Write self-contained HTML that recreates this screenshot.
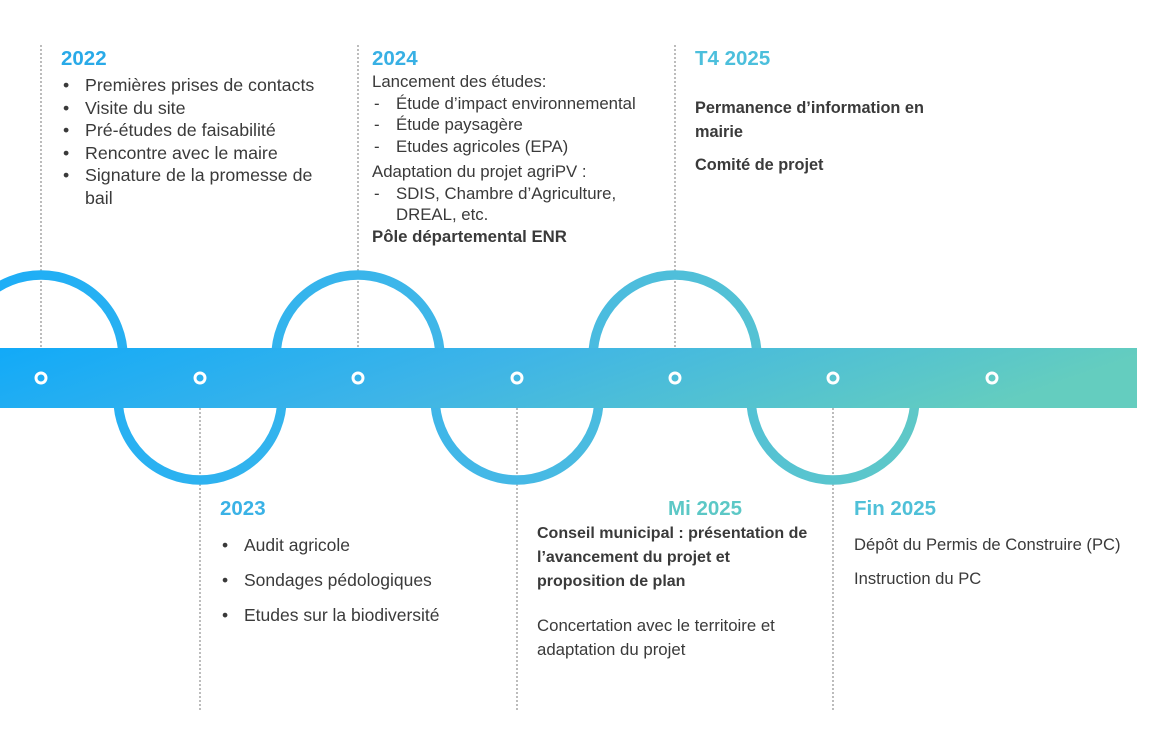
<!DOCTYPE html>
<html><head><meta charset="utf-8"><style>
body{margin:0;width:1152px;height:729px;background:#fff;position:relative;overflow:hidden;font-family:"Liberation Sans",sans-serif;color:#3a3a3a}
.t{position:absolute;font-size:16.5px;line-height:22.5px;white-space:nowrap}
.h{font-weight:bold;font-size:20.5px;position:absolute}
ul{margin:0;padding:0;list-style:none}
li{position:relative;padding-left:24px}
li:before{content:"•";position:absolute;left:2px}
.d li:before{content:"-";left:2px}
b{font-weight:bold}
</style></head><body>
<svg width="1152" height="729" style="position:absolute;left:0;top:0">
<defs><linearGradient id="g" x1="0" y1="0" x2="1" y2="0.15">
<stop offset="0" stop-color="#12aaf8"/><stop offset="0.45" stop-color="#3db4e8"/><stop offset="1" stop-color="#64cdbf"/></linearGradient>
<linearGradient id="g2" gradientUnits="userSpaceOnUse" x1="0" y1="0" x2="1137" y2="0">
<stop offset="0" stop-color="#1eaef6"/><stop offset="0.45" stop-color="#45b8e6"/><stop offset="0.8" stop-color="#5ec8c8"/><stop offset="1" stop-color="#64cdbf"/></linearGradient>
<clipPath id="top"><rect x="-100" y="0" width="1400" height="378"/></clipPath>
<clipPath id="bot"><rect x="-100" y="378" width="1400" height="400"/></clipPath>
</defs>
<g stroke="#999" stroke-width="1.3" stroke-dasharray="2,2">
<line x1="41" y1="45" x2="41" y2="348"/><line x1="358" y1="45" x2="358" y2="348"/><line x1="675" y1="45" x2="675" y2="348"/>
<line x1="200" y1="408" x2="200" y2="712"/><line x1="517" y1="408" x2="517" y2="712"/><line x1="833" y1="408" x2="833" y2="712"/>
</g>
<g fill="none" stroke="url(#g2)" stroke-width="9.5">
<g clip-path="url(#top)"><circle cx="41" cy="357" r="82"/><circle cx="358" cy="357" r="82"/><circle cx="675" cy="357" r="82"/></g>
<g clip-path="url(#bot)"><circle cx="200" cy="398" r="82"/><circle cx="517" cy="398" r="82"/><circle cx="833" cy="398" r="82"/></g>
</g>
<rect x="0" y="348" width="1137" height="60" fill="url(#g)"/>
<g fill="none" stroke="#fff" stroke-width="3">
<circle cx="41" cy="378" r="5"/><circle cx="200" cy="378" r="5"/><circle cx="358" cy="378" r="5"/><circle cx="517" cy="378" r="5"/><circle cx="675" cy="378" r="5"/><circle cx="833" cy="378" r="5"/><circle cx="992" cy="378" r="5"/>
</g>
</svg>
<div class="h" style="left:61px;top:47px;color:#29aae8">2022</div>
<div class="t" style="left:61px;top:74px;font-size:17.8px"><ul><li>Premières prises de contacts</li><li>Visite du site</li><li>Pré-études de faisabilité</li><li>Rencontre avec le maire</li><li>Signature de la promesse de<br>bail</li></ul></div>
<div class="h" style="left:372px;top:47px;color:#38b0e4">2024</div>
<div class="t" style="left:372px;top:71px;font-size:16.8px;line-height:21.5px">Lancement des études:<ul class="d"><li>Étude d’impact environnemental</li><li>Étude paysagère</li><li>Etudes agricoles (EPA)</li></ul><div style="margin-top:4px">Adaptation du projet agriPV :</div><ul class="d"><li>SDIS, Chambre d’Agriculture,<br>DREAL, etc.</li></ul><b>Pôle départemental ENR</b></div>
<div class="h" style="left:695px;top:47px;color:#4cbfdc">T4 2025</div>
<div class="t" style="left:695px;top:96px;font-size:16.3px;line-height:24px"><b>Permanence d’information en<br>mairie</b><div style="margin-top:9px"><b>Comité de projet</b></div></div>
<div class="h" style="left:220px;top:497px;color:#3ab2e6">2023</div>
<div class="t" style="left:220px;top:528px;font-size:17.5px;line-height:35px"><ul><li>Audit agricole</li><li>Sondages pédologiques</li><li>Etudes sur la biodiversité</li></ul></div>
<div class="h" style="left:668px;top:497px;color:#5cc8c6">Mi 2025</div>
<div class="t" style="left:537px;top:522px;font-size:16px;line-height:24px"><b>Conseil municipal : présentation de<br>l’avancement du projet et<br>proposition de plan</b><div style="margin-top:20px;font-size:16.8px">Concertation avec le territoire et<br>adaptation du projet</div></div>
<div class="h" style="left:854px;top:497px;color:#4fc0d8">Fin 2025</div>
<div class="t" style="left:854px;top:533px;font-size:16.6px;line-height:24px">Dépôt du Permis de Construire (PC)<div style="margin-top:10px">Instruction du PC</div></div>
</body></html>
